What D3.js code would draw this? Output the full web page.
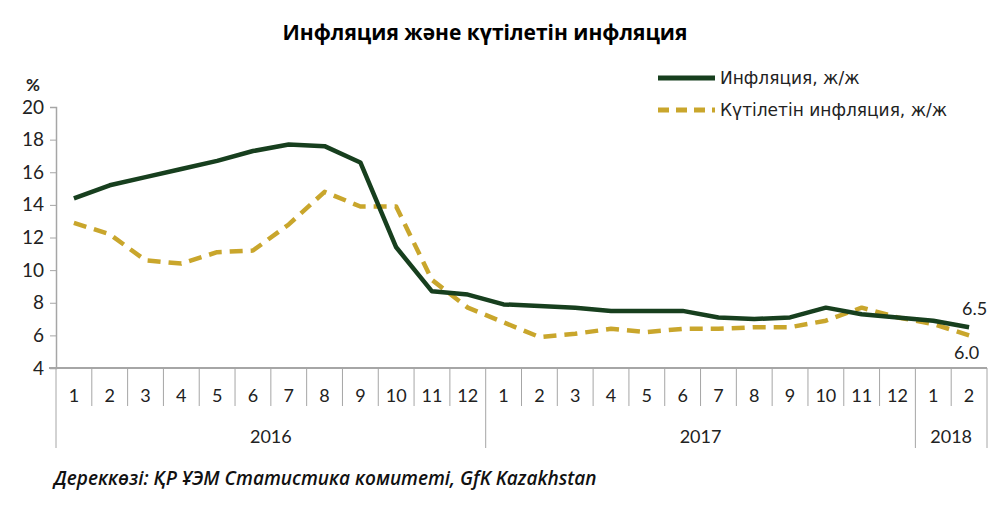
<!DOCTYPE html>
<html><head><meta charset="utf-8">
<script src="https://cdn.jsdelivr.net/npm/d3@7"></script>
<style>body{margin:0;background:#fff}svg{display:block}</style>
</head><body>
<svg id="c" width="1000" height="512"></svg>
<script>
const months = ["1","2","3","4","5","6","7","8","9","10","11","12","1","2","3","4","5","6","7","8","9","10","11","12","1","2"];
const years = [{label:"2016", n:12},{label:"2017", n:12},{label:"2018", n:2}];
const inflation = [14.4,15.2,15.7,16.2,16.7,17.3,17.7,17.6,16.6,11.4,8.7,8.5,7.9,7.8,7.7,7.5,7.5,7.5,7.1,7.0,7.1,7.7,7.3,7.1,6.9,6.5];
const expected  = [12.9,12.2,10.6,10.4,11.1,11.2,12.8,14.8,13.9,13.9,9.4,7.7,6.8,5.9,6.1,6.4,6.2,6.4,6.4,6.5,6.5,6.9,7.7,7.1,6.7,6.0];
const yTicks = [4,6,8,10,12,14,16,18,20];
const seriesNames = ["Инфляция, ж/ж","Күтілетін инфляция, ж/ж"];

const svg = d3.select("#c");
const L = 56, R = 987, T = 107, B = 368;
const x = d3.scaleBand().domain(d3.range(months.length)).range([L, R]).padding(0);
const y = d3.scaleLinear().domain([4, 20]).range([B, T]);
const green = "#173f1e", gold = "#c9a62c", axisCol = "#a6a6a6";
const labelFont = "Lato, 'Open Sans', sans-serif";

// title
svg.append("text").attr("x", 485).attr("y", 40).attr("text-anchor", "middle")
  .attr("font-family", "'Open Sans', sans-serif").attr("font-weight", 700).attr("font-size", 21)
  .attr("fill", "#000").text("Инфляция және күтілетін инфляция");

// y axis
const yAxis = svg.append("g").attr("transform", `translate(${L},0)`)
  .call(d3.axisLeft(y).tickValues(yTicks).tickSize(6).tickPadding(6).tickFormat(d3.format("d")));
yAxis.select(".domain").attr("stroke", axisCol).attr("stroke-width", 1.5);
yAxis.selectAll(".tick line").attr("stroke", axisCol);
yAxis.selectAll("text").attr("font-family", labelFont).attr("font-size", 19).attr("fill", "#222");
svg.append("text").attr("x", 26).attr("y", 91).attr("font-family", labelFont).attr("font-size", 17)
  .attr("font-weight", 700).attr("fill", "#222").text("%");

// x axis baseline
svg.append("line").attr("x1", L - 7).attr("x2", R).attr("y1", B).attr("y2", B)
  .attr("stroke", axisCol).attr("stroke-width", 2);

// month separators & labels
const xg = svg.append("g");
d3.range(months.length + 1).forEach(i => {
  const xp = i < months.length ? x(i) : R;
  xg.append("line").attr("x1", xp).attr("x2", xp).attr("y1", B).attr("y2", 406)
    .attr("stroke", axisCol).attr("stroke-width", 1);
});
months.forEach((m, i) => {
  xg.append("text").attr("x", x(i) + x.bandwidth() / 2).attr("y", 402).attr("text-anchor", "middle")
    .attr("font-family", labelFont).attr("font-size", 18).attr("fill", "#222").text(m);
});
// year separators & labels
let start = 0;
years.forEach((yr, k) => {
  const x0 = x(start), end = start + yr.n;
  const x1 = end < months.length ? x(end) : R;
  if (k === 0) xg.append("line").attr("x1", x0).attr("x2", x0).attr("y1", 406).attr("y2", 448).attr("stroke", axisCol);
  xg.append("line").attr("x1", x1).attr("x2", x1).attr("y1", 406).attr("y2", 448).attr("stroke", axisCol);
  xg.append("text").attr("x", (x0 + x1) / 2).attr("y", 443).attr("text-anchor", "middle")
    .attr("font-family", labelFont).attr("font-size", 18).attr("fill", "#222").text(yr.label);
  start = end;
});

// lines
const line = d3.line().x((d, i) => x(i) + x.bandwidth() / 2).y(d => y(d));
svg.append("path").datum(expected).attr("d", line).attr("fill", "none")
  .attr("stroke", gold).attr("stroke-width", 4.5).attr("stroke-dasharray", "13,8").attr("stroke-linejoin", "round");
svg.append("path").datum(inflation).attr("d", line).attr("fill", "none")
  .attr("stroke", green).attr("stroke-width", 4.5).attr("stroke-linejoin", "round");

// end labels
const lastI = months.length - 1, lx = x(lastI) + x.bandwidth() / 2;
svg.append("text").attr("x", lx + 18).attr("y", y(inflation[lastI]) - 12).attr("text-anchor", "end")
  .attr("font-family", labelFont).attr("font-size", 18).attr("fill", "#222").text(d3.format(".1f")(inflation[lastI]));
svg.append("text").attr("x", lx + 10).attr("y", y(expected[lastI]) + 24).attr("text-anchor", "end")
  .attr("font-family", labelFont).attr("font-size", 18).attr("fill", "#222").text(d3.format(".1f")(expected[lastI]));

// legend
const lg = svg.append("g");
lg.append("line").attr("x1", 658).attr("x2", 715).attr("y1", 78).attr("y2", 78).attr("stroke", green).attr("stroke-width", 5);
lg.append("line").attr("x1", 658).attr("x2", 715).attr("y1", 110).attr("y2", 110).attr("stroke", gold).attr("stroke-width", 5).attr("stroke-dasharray", "11,7");
lg.append("text").attr("x", 720).attr("y", 84).attr("font-family", "'DejaVu Sans', sans-serif").attr("font-size", 17).attr("fill", "#222").text(seriesNames[0]);
lg.append("text").attr("x", 720).attr("y", 116).attr("font-family", "'DejaVu Sans', sans-serif").attr("font-size", 17).attr("fill", "#222").text(seriesNames[1]);

// source
svg.append("text").attr("x", 54).attr("y", 485).attr("font-family", "'Open Sans', sans-serif")
  .attr("font-style", "italic").attr("font-weight", 600).attr("font-size", 19).attr("fill", "#111")
  .text("Дереккөзі: ҚР ҰЭМ Статистика комитеті, GfK Kazakhstan");
</script>
</body></html>
